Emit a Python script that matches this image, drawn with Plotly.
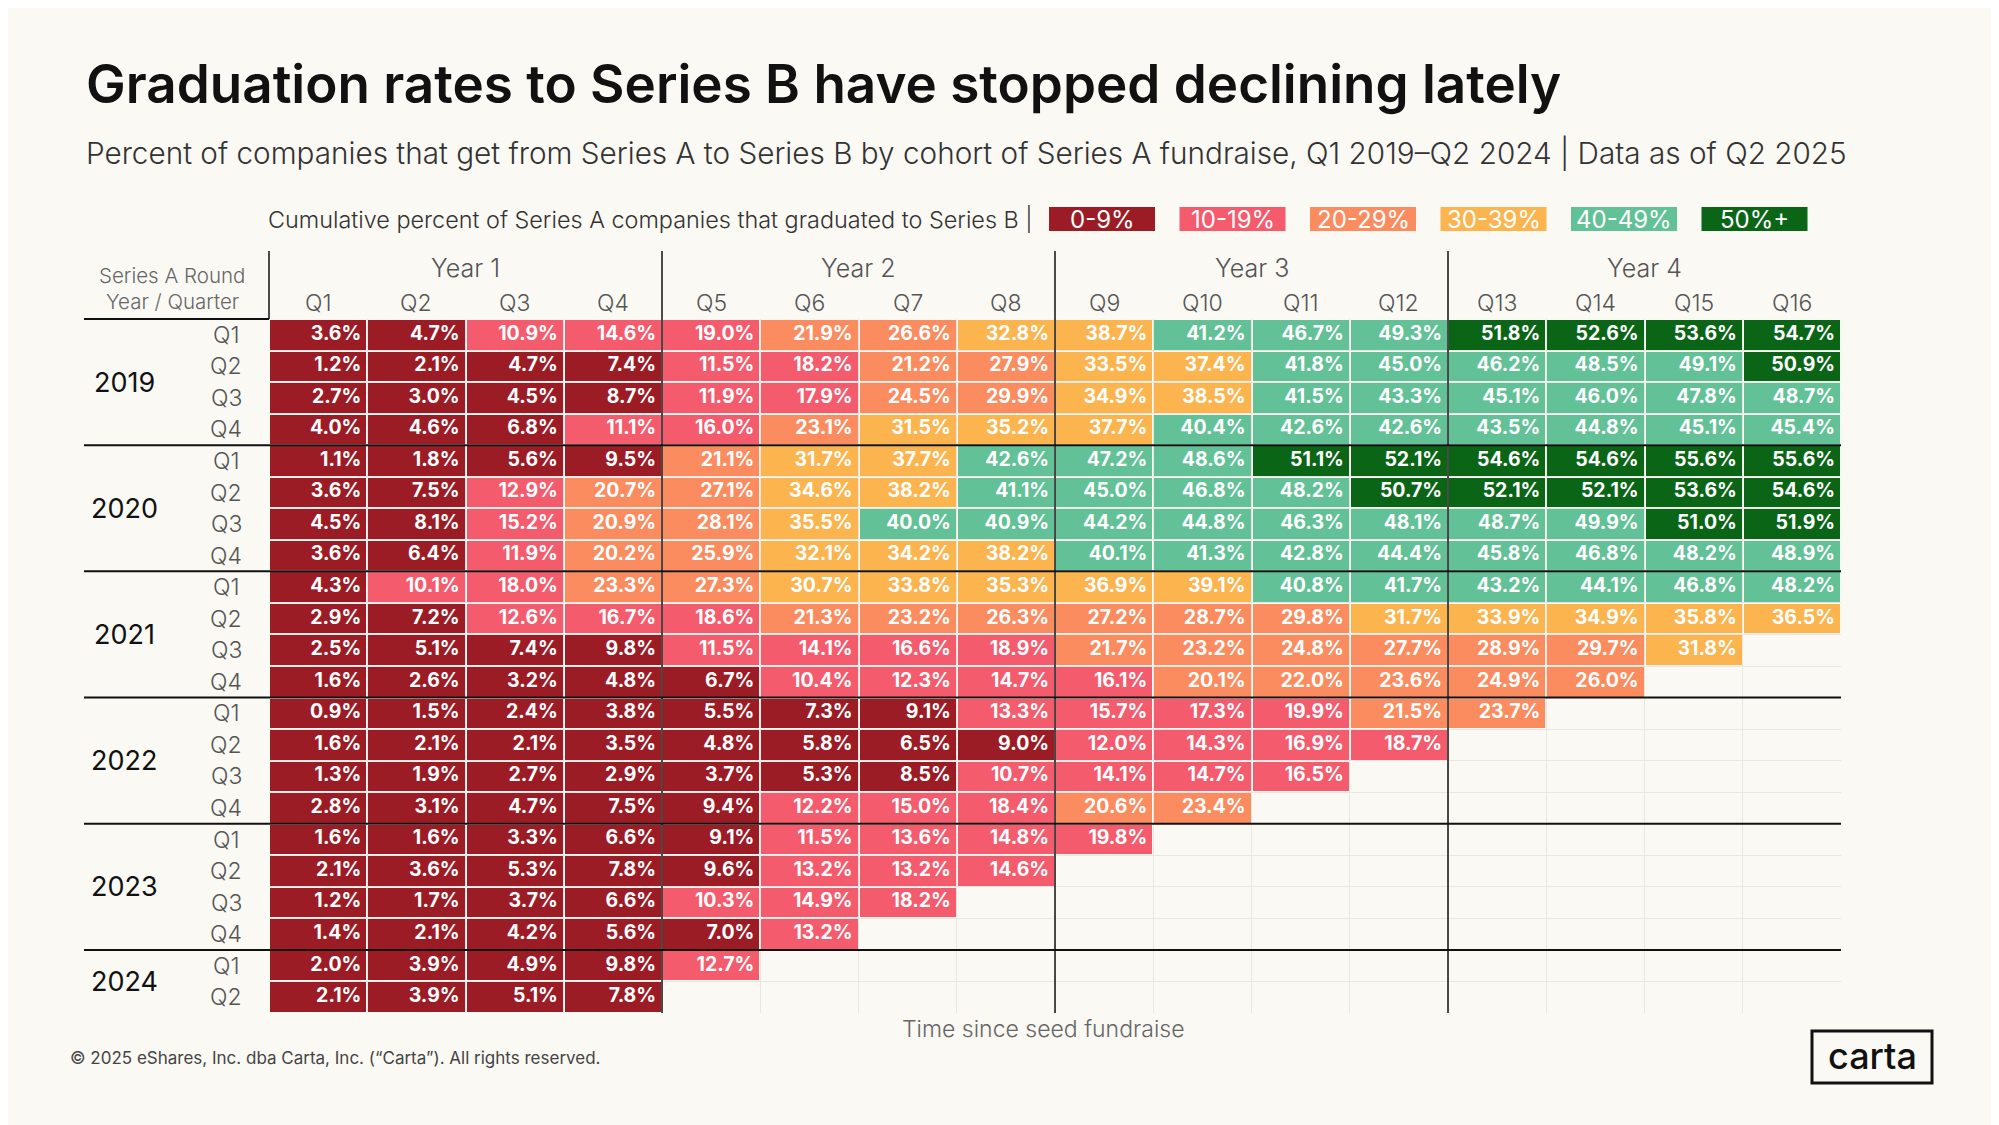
import plotly.graph_objects as go

# cumulative % of Series A companies that reached Series B, per cohort quarter
cohort_2019 = [
    [3.6, 4.7, 10.9, 14.6, 19.0, 21.9, 26.6, 32.8, 38.7, 41.2, 46.7, 49.3, 51.8, 52.6, 53.6, 54.7],
    [1.2, 2.1, 4.7, 7.4, 11.5, 18.2, 21.2, 27.9, 33.5, 37.4, 41.8, 45.0, 46.2, 48.5, 49.1, 50.9],
    [2.7, 3.0, 4.5, 8.7, 11.9, 17.9, 24.5, 29.9, 34.9, 38.5, 41.5, 43.3, 45.1, 46.0, 47.8, 48.7],
    [4.0, 4.6, 6.8, 11.1, 16.0, 23.1, 31.5, 35.2, 37.7, 40.4, 42.6, 42.6, 43.5, 44.8, 45.1, 45.4],
]
cohort_2020 = [
    [1.1, 1.8, 5.6, 9.5, 21.1, 31.7, 37.7, 42.6, 47.2, 48.6, 51.1, 52.1, 54.6, 54.6, 55.6, 55.6],
    [3.6, 7.5, 12.9, 20.7, 27.1, 34.6, 38.2, 41.1, 45.0, 46.8, 48.2, 50.7, 52.1, 52.1, 53.6, 54.6],
    [4.5, 8.1, 15.2, 20.9, 28.1, 35.5, 40.0, 40.9, 44.2, 44.8, 46.3, 48.1, 48.7, 49.9, 51.0, 51.9],
    [3.6, 6.4, 11.9, 20.2, 25.9, 32.1, 34.2, 38.2, 40.1, 41.3, 42.8, 44.4, 45.8, 46.8, 48.2, 48.9],
]
cohort_2021 = [
    [4.3, 10.1, 18.0, 23.3, 27.3, 30.7, 33.8, 35.3, 36.9, 39.1, 40.8, 41.7, 43.2, 44.1, 46.8, 48.2],
    [2.9, 7.2, 12.6, 16.7, 18.6, 21.3, 23.2, 26.3, 27.2, 28.7, 29.8, 31.7, 33.9, 34.9, 35.8, 36.5],
    [2.5, 5.1, 7.4, 9.8, 11.5, 14.1, 16.6, 18.9, 21.7, 23.2, 24.8, 27.7, 28.9, 29.7, 31.8],
    [1.6, 2.6, 3.2, 4.8, 6.7, 10.4, 12.3, 14.7, 16.1, 20.1, 22.0, 23.6, 24.9, 26.0],
]
cohort_2022 = [
    [0.9, 1.5, 2.4, 3.8, 5.5, 7.3, 9.1, 13.3, 15.7, 17.3, 19.9, 21.5, 23.7],
    [1.6, 2.1, 2.1, 3.5, 4.8, 5.8, 6.5, 9.0, 12.0, 14.3, 16.9, 18.7],
    [1.3, 1.9, 2.7, 2.9, 3.7, 5.3, 8.5, 10.7, 14.1, 14.7, 16.5],
    [2.8, 3.1, 4.7, 7.5, 9.4, 12.2, 15.0, 18.4, 20.6, 23.4],
]
cohort_2023 = [
    [1.6, 1.6, 3.3, 6.6, 9.1, 11.5, 13.6, 14.8, 19.8],
    [2.1, 3.6, 5.3, 7.8, 9.6, 13.2, 13.2, 14.6],
    [1.2, 1.7, 3.7, 6.6, 10.3, 14.9, 18.2],
    [1.4, 2.1, 4.2, 5.6, 7.0, 13.2],
]
cohort_2024 = [
    [2.0, 3.9, 4.9, 9.8, 12.7],
    [2.1, 3.9, 5.1, 7.8],
]

years = ["2019", "2020", "2021", "2022", "2023", "2024"]
cohorts = [cohort_2019, cohort_2020, cohort_2021, cohort_2022, cohort_2023, cohort_2024]
row_quarters = ["Q1", "Q2", "Q3", "Q4"]
col_quarters = ["Q%d" % i for i in range(1, 17)]
year_groups = ["Year 1", "Year 2", "Year 3", "Year 4"]

bin_labels = ["0-9%", "10-19%", "20-29%", "30-39%", "40-49%", "50%+"]
bin_colors = ["#9C1C26", "#F45B6D", "#FA8C5F", "#FCB44F", "#63C197", "#0B6517"]

BG = "#FBF9F4"
OFF = 8  # page body margin
W, H = 1999, 1125
GRID_L, GRID_R = 269, 1841
GRID_T, GRID_B = 319, 1013
FONT = "Inter"

# flatten cohorts into rows
rows = []
for yr, block in zip(years, cohorts):
    for vals in block:
        rows.append(vals)
n_rows = len(rows)
n_cols = len(col_quarters)

z = []
for vals in rows:
    line = []
    for c in range(n_cols):
        if c < len(vals):
            line.append(min(int(vals[c] // 10), 5) + 0.5)
        else:
            line.append(None)
    z.append(line)

scale = []
for i, col in enumerate(bin_colors):
    scale.append([i / 6, col])
    scale.append([(i + 1) / 6, col])

fig = go.Figure()
fig.add_trace(go.Heatmap(
    z=z, x=list(range(n_cols)), y=list(range(n_rows)),
    colorscale=scale, zmin=0, zmax=6, showscale=False,
    xgap=2, ygap=2, hoverinfo="skip",
))

# value labels, right aligned inside each cell
tx, ty, tt = [], [], []
for r, vals in enumerate(rows):
    for c, v in enumerate(vals):
        tx.append(c + 0.44)
        ty.append(r)
        tt.append("%.1f%%" % v)
fig.add_trace(go.Scatter(
    x=tx, y=ty, text=tt, mode="text", textposition="middle left",
    textfont=dict(family=FONT, size=19.5, color="white", weight=700),
    hoverinfo="skip", showlegend=False,
))


# reference pixel -> paper coordinate
def px_x(p):
    return (p - OFF) / W


def px_y(p):
    return 1 - (p - OFF) / H


col_w = (GRID_R - GRID_L) / n_cols
row_h = (GRID_B - GRID_T) / n_rows

fig.update_layout(
    width=W, height=H,
    margin=dict(l=0, r=0, t=0, b=0),
    paper_bgcolor=BG, plot_bgcolor=BG,
    showlegend=False,
    font=dict(family=FONT, color="#222"),
    xaxis=dict(domain=[px_x(GRID_L), px_x(GRID_R)], range=[-0.5, n_cols - 0.5],
               tickvals=[i - 0.5 for i in range(n_cols + 1)], showticklabels=False,
               showgrid=True, gridcolor="#E9E7E1", gridwidth=1, zeroline=False, fixedrange=True),
    yaxis=dict(domain=[px_y(GRID_B), px_y(GRID_T)], range=[n_rows - 0.5, -0.5],
               tickvals=[i - 0.5 for i in range(n_rows + 1)], showticklabels=False,
               showgrid=True, gridcolor="#E9E7E1", gridwidth=1, zeroline=False, fixedrange=True),
)

ann = []
shapes = []


def label(text, x, y, size, color, anchor="center", weight=400):
    ann.append(dict(text=text, xref="paper", yref="paper", x=px_x(x), y=px_y(y),
                    xanchor=anchor, yanchor="middle", showarrow=False,
                    font=dict(size=size, color=color, family=FONT, weight=weight)))


def line(x0, y0, x1, y1, width=2, color="#111"):
    shapes.append(dict(type="line", xref="paper", yref="paper",
                       x0=px_x(x0), x1=px_x(x1), y0=px_y(y0), y1=px_y(y1),
                       line=dict(color=color, width=width)))


# title block
label("Graduation rates to Series B have stopped declining lately", 84, 84, 53, "#111",
      anchor="left", weight=600)
label("Percent of companies that get from Series A to Series B by cohort of Series A fundraise, "
      "Q1 2019\u2013Q2 2024 | Data as of Q2 2025", 84, 153, 29.7, "#333", anchor="left", weight=300)

# colour key
label("Cumulative percent of Series A companies that graduated to Series B |", 266, 219, 23.4, "#333",
      anchor="left", weight=300)
for i, (lab, col) in enumerate(zip(bin_labels, bin_colors)):
    x0 = 1049 + i * 130.5
    shapes.append(dict(type="rect", xref="paper", yref="paper",
                       x0=px_x(x0), x1=px_x(x0 + 106), y0=px_y(231), y1=px_y(207),
                       fillcolor=col, line=dict(width=0)))
    label(lab, x0 + 53, 219, 24, "white")

# column headers
for g, name in enumerate(year_groups):
    label(name, GRID_L + (g * 4 + 2) * col_w, 268, 25, "#555", weight=300)
for c, name in enumerate(col_quarters):
    label(name, GRID_L + (c + 0.5) * col_w, 303, 23, "#555", weight=300)
label("Series A Round", 172, 275, 20.5, "#666", weight=300)
label("Year / Quarter", 172, 302, 20.5, "#666", weight=300)

# row headers and year separators
r = 0
for yr, block in zip(years, cohorts):
    n = len(block)
    label(yr, 124, GRID_T + (r + n / 2) * row_h, 27, "#111")
    for k in range(n):
        label(row_quarters[k], 226, GRID_T + (r + k + 0.5) * row_h, 23, "#555", weight=300)
    r += n
    if r < n_rows:
        yb = GRID_T + r * row_h
        line(84, yb, GRID_R, yb)

# header rule and year-group dividers
line(84, GRID_T, GRID_L, GRID_T)
line(GRID_L, 251, GRID_L, GRID_T, width=1.5)
for g in range(1, len(year_groups)):
    xb = GRID_L + g * 4 * col_w
    line(xb, 251, xb, GRID_B, width=1.5)

# footer
label("Time since seed fundraise", 1043, 1029, 23, "#666", weight=300)
label("\u00a9 2025 eShares, Inc. dba Carta, Inc. (\u201cCarta\u201d). All rights reserved.",
      68, 1058, 17, "#444", anchor="left")
shapes.append(dict(type="rect", xref="paper", yref="paper",
                   x0=px_x(1812), x1=px_x(1932), y0=px_y(1083), y1=px_y(1031),
                   line=dict(color="#111", width=3), fillcolor=BG))
label("carta", 1872, 1056, 36, "#111", weight=500)

fig.update_layout(annotations=ann, shapes=shapes)
fig.write_html("out.html")
